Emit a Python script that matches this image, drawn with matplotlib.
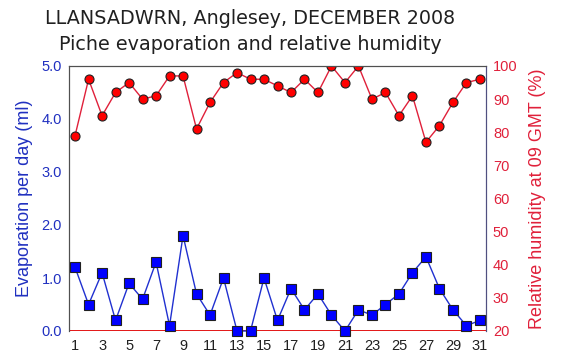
import matplotlib
matplotlib.use('Agg')
import matplotlib.pyplot as plt

days = list(range(1, 32))
evaporation = [1.2, 0.5, 1.1, 0.2, 0.9, 0.6, 1.3, 0.1, 1.8, 0.7, 0.3, 1.0, 0.0, 0.0, 1.0, 0.2,
               0.8, 0.4, 0.7, 0.3, 0.0, 0.4, 0.3, 0.5, 0.7, 1.1, 1.4, 0.8, 0.4, 0.1, 0.2]
humidity = [79, 96, 85, 92, 95, 90, 91, 97, 97, 81, 89, 95, 98, 96, 96, 94,
            92, 96, 92, 100, 95, 100, 90, 92, 85, 91, 77, 82, 89, 95, 96]
xticks = list(range(1, 32, 2))

fig = plt.figure(figsize=(5.64, 3.6), dpi=100)
ax = fig.add_axes([69 / 564, 1 - 331 / 360, (486 - 69) / 564, (331 - 66) / 360])
ax2 = ax.twinx()

# humidity (right axis)
ax2.plot(days, humidity, color='#e0203a', lw=1, marker='o', ms=6.5,
         mfc='red', mec='#202020', mew=0.8, zorder=3)
ax2.set_ylim(20, 100)
ax2.set_yticks(range(20, 101, 10))
ax2.set_ylabel('Relative humidity at 09 GMT (%)', color='#e0203a',
               fontsize=13, family='Liberation Sans', labelpad=8)

# evaporation (left axis)
ax.set_zorder(ax2.get_zorder() + 1)
ax.patch.set_visible(False)
ax.axhline(0, color='#e00000', lw=2, zorder=2)
ax.plot(days, evaporation, color='#2030d0', lw=1, marker='s', ms=7,
        mfc='#0000ff', mec='#202020', mew=0.8, zorder=3, clip_on=False)
ax.set_ylim(0, 5)
ax.set_yticks([0, 1, 2, 3, 4, 5])
ax.set_yticklabels(['0.0', '1.0', '2.0', '3.0', '4.0', '5.0'])
ax.set_xlim(0.55, 31.45)
ax.set_xticks(xticks)
ax.set_ylabel('Evaporation per day (ml)', color='#2030c0',
              fontsize=13, family='Liberation Sans', labelpad=6)

ax.tick_params(axis='y', length=0, labelsize=10.5, labelcolor='#2030c0', pad=5)
ax.tick_params(axis='x', length=0, labelsize=10.5, labelcolor='#202020', pad=6)
ax2.tick_params(axis='y', length=0, labelsize=10.5, labelcolor='#e0203a', pad=5)
for lab in ax.get_xticklabels() + ax.get_yticklabels() + ax2.get_yticklabels():
    lab.set_family('Liberation Sans')

for a in (ax, ax2):
    a.spines['left'].set_color('#505050')
    a.spines['top'].set_color('#505050')
    a.spines['right'].set_color('#505080')
    a.spines['bottom'].set_visible(False)

fig.text(250 / 564, 1 - 18 / 360, 'LLANSADWRN, Anglesey, DECEMBER 2008',
         ha='center', va='center', fontsize=13.8, color='#202020')
fig.text(250 / 564, 1 - 45 / 360, 'Piche evaporation and relative humidity',
         ha='center', va='center', fontsize=13.8, color='#202020')

fig.savefig('out.png', dpi=100)
